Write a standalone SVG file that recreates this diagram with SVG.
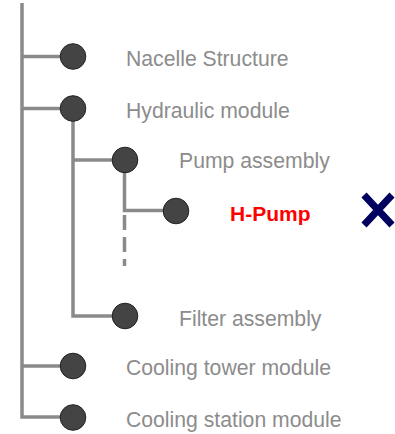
<svg xmlns="http://www.w3.org/2000/svg" width="395" height="434" viewBox="0 0 395 434">
<style>
.ln{fill:none;stroke:#8a8a8a;stroke-width:3.5}
.dash{fill:none;stroke:#8a8a8a;stroke-width:3.5;stroke-dasharray:15 7}
.dot{fill:#444;stroke:#222;stroke-width:1}
.lbl{font-family:"Liberation Sans",Arial,sans-serif;font-size:21.2px;fill:#8c8c8c}
.hl{font-family:"Liberation Sans",Arial,sans-serif;font-size:21px;font-weight:bold;fill:#ff0000}
.x{stroke:#00005f;stroke-width:7;fill:none}
</style>
<rect width="395" height="434" fill="#fff"/>
<g id="connectors">
<path class="ln" d="M22,3 V417 H73"/>
<path class="ln" d="M22,56.5 H73"/>
<path class="ln" d="M22,108.5 H73"/>
<path class="ln" d="M22,366 H73"/>
<path class="ln" d="M73,108 V316 H125"/>
<path class="ln" d="M73,160 H125"/>
<path class="ln" d="M124.5,160 V210.5 H176"/>
<path class="dash" d="M124.5,215 V266"/>
</g>
<g id="nacelle"><circle class="dot" cx="73" cy="56.5" r="12.8"/><text class="lbl" x="126" y="66">Nacelle Structure</text></g>
<g id="hydraulic"><circle class="dot" cx="73" cy="108.5" r="12.8"/><text class="lbl" x="126" y="118">Hydraulic module</text></g>
<g id="pump-assembly"><circle class="dot" cx="125" cy="160" r="12.8"/><text class="lbl" x="179" y="167.5">Pump assembly</text></g>
<g id="h-pump"><circle class="dot" cx="176" cy="211" r="12.8"/><text class="hl" x="230" y="221">H-Pump</text></g>
<g id="filter"><circle class="dot" cx="125" cy="316" r="12.8"/><text class="lbl" x="179" y="326">Filter assembly</text></g>
<g id="cooling-tower"><circle class="dot" cx="73" cy="366" r="12.8"/><text class="lbl" x="126" y="375">Cooling tower module</text></g>
<g id="cooling-station"><circle class="dot" cx="73" cy="417.5" r="12.8"/><text class="lbl" x="126" y="427">Cooling station module</text></g>
<g id="x-mark"><path class="x" d="M364,195 L392,225 M392,195 L364,225"/></g>
</svg>
